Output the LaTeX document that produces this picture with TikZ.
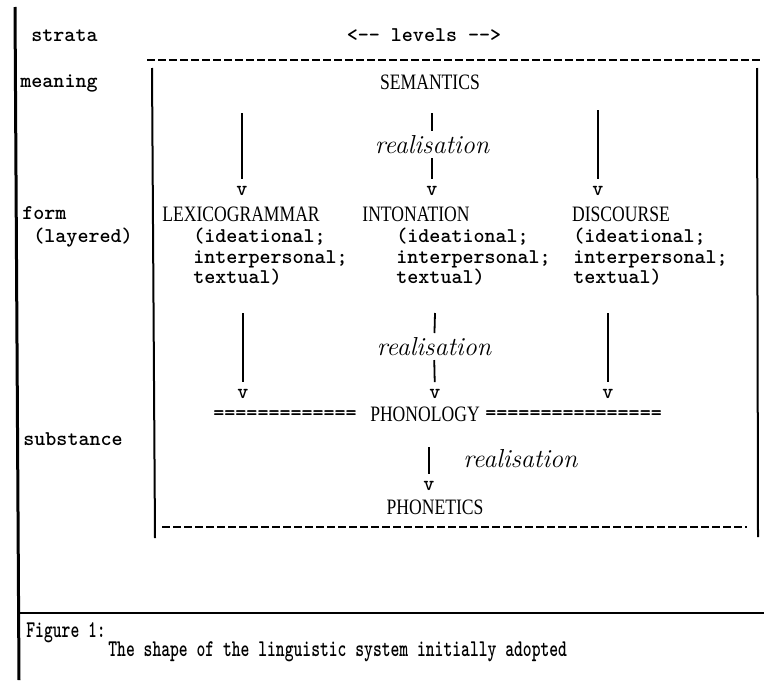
\documentclass[tikz,border=0pt]{standalone}
\usepackage{fontspec}
\newfontfamily\typefont{lmmonolt10-bold.otf}
\newfontfamily\condfont[FakeStretch=0.7]{lmmonolt10-bold.otf}
\newfontfamily\capsfont[FakeStretch=0.8]{Liberation Serif}
\begin{document}
\begin{tikzpicture}[x=0.5pt,y=-0.5pt,txt/.style={font=\typefont\fontsize{10.5}{12}\selectfont,inner sep=0pt,text height=7pt,text depth=2pt},lbl/.style={txt,anchor=west},level/.style={font=\capsfont\fontsize{11}{13}\selectfont,inner sep=0pt,text height=7.3pt,text depth=0pt},real/.style={font=\itshape\fontsize{13}{15}\selectfont,inner sep=0pt,text height=7.6pt,text depth=2pt},vhead/.style={txt,text height=4.5pt,text depth=0pt},capt/.style={font=\condfont\fontsize{12}{14}\selectfont,inner sep=0pt,anchor=west,text height=7.5pt,text depth=2pt},stem/.style={line width=0.9pt,shorten >=3.5pt},rule/.style={line width=0.6pt,dash pattern=on 4pt off 1.5pt}]
\def\xl{242};
\def\xm{432};
\def\xr{598};
\useasboundingbox (0,0) rectangle (764,680);

\draw[line width=1.5pt] (15,7) -- (19,680);
\draw[line width=1.1pt] (17,613) -- (764,613);
\draw[line width=1pt] (152,68) -- (155,538);
\draw[line width=1pt] (757,68) -- (758,537);
\draw[rule] (147,60) -- (760,60);
\draw[rule] (162,527) -- (747,527);

\node[lbl] (strata) at (31,36) {strata};
\node[txt] (levels) at (424,36) {<-{}- levels -{}->};
\node[lbl] (meaning) at (20,82) {meaning};
\node[lbl] (form) at (22,214) {form};
\node[lbl] (layered) at (33,237) {(layered)};
\node[lbl] (subst) at (23,440) {substance};

\node[level] (sem) at (430,82) {SEMANTICS};
\node[level] (lexg) at (241,214) {LEXICOGRAMMAR};
\node[level] (inton) at (416,214) {INTONATION};
\node[level] (disc) at (621,214) {DISCOURSE};
\foreach \n/\x in {L/193,M/396,R/573}{
  \node[lbl] (idea\n) at (\x,237) {(ideational;};
  \node[lbl] (inter\n) at (\x,258) {interpersonal;};
  \node[lbl] (textu\n) at (\x,278) {textual)};
}

\coordinate (tA) at (\xl,113);
\coordinate (tB) at (\xm,113);
\coordinate (tC) at (\xr,110);
\node[real] (rzA) at (\xm,148) {realisation};
\node[vhead] (vA) at (\xl,191) {v};
\node[vhead] (vB) at (\xm,191) {v};
\node[vhead] (vC) at (\xr,191) {v};
\draw[stem] (tA) -- (vA);
\draw[stem] (tB) -- (rzA);
\draw[stem] (rzA) -- (vB);
\draw[stem] (tC) -- (vC);

\coordinate (tD) at (243,313);
\coordinate (tE) at (435,313);
\coordinate (tF) at (608,313);
\node[real] (rzB) at (434,350) {realisation};
\node[vhead] (vD) at (243,394) {v};
\node[vhead] (vE) at (435,394) {v};
\node[vhead] (vF) at (608,394) {v};
\draw[stem] (tD) -- (vD);
\draw[stem] (tE) -- (rzB);
\draw[stem] (rzB) -- (vE);
\draw[stem] (tF) -- (vF);

\node[lbl] (eqL) at (213,414) {=============};
\node[level] (phonol) at (425,414) {PHONOLOGY};
\node[lbl] (eqR) at (485,414) {================};

\coordinate (tG) at (429,447);
\node[real,anchor=west] (rzC) at (463,462) {realisation};
\node[vhead] (vG) at (429,486) {v};
\node[level] (phonet) at (435,507) {PHONETICS};
\draw[stem] (tG) -- (vG);

\node[capt] (fig) at (26,632) {Figure 1:};
\node[capt] (figtext) at (108,651) {The shape of the linguistic system initially adopted};
\end{tikzpicture}
\end{document}
